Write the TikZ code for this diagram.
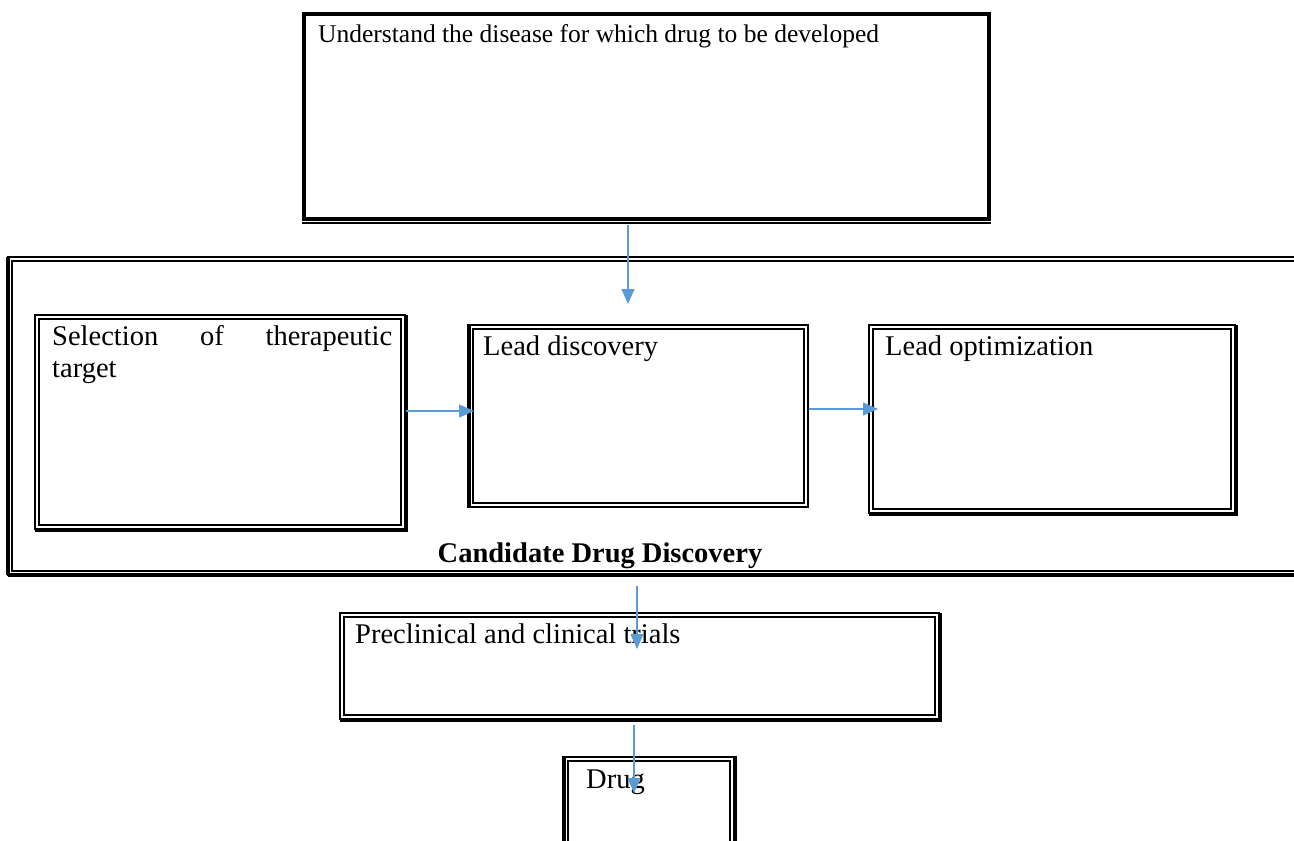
\documentclass[tikz,border=0pt]{standalone}
\usepackage{fontspec}
\setmainfont{Liberation Serif}
\usetikzlibrary{arrows.meta}
\definecolor{arrowblue}{HTML}{5B9BD5}
\begin{document}
\begin{tikzpicture}[x=1pt,y=-1pt,
  box/.style={draw, line width=1.8pt, inner sep=0pt, outer sep=0pt, anchor=north west},
  innerline/.style={line width=1.4pt},
  heavy/.style={line width=4pt},
  arr/.style={draw=arrowblue, line width=1.4pt, -{Triangle[length=15pt,width=13pt]}},
  txt/.style={font=\fontsize{28.5}{32}\selectfont, inner sep=0pt, anchor=base west}]
\clip (0,0) rectangle (1294,841);
\fill[white] (0,0) rectangle (1294,841);

% top box
\node[box, line width=4.5pt, minimum width=685pt, minimum height=205pt] (top) at (304,14) {};
\draw[line width=1.2pt] ([shift={(-2,4)}]top.south west) -- ([shift={(2,4)}]top.south east);
\node[txt, font=\fontsize{25.5}{30}\selectfont] (toptxt) at (318,42) {Understand the disease for which drug to be developed};

% container
\node[box, line width=1.6pt, minimum width=1292pt, minimum height=318pt] (cont) at (8,257) {};
\draw[innerline] ([shift={(4,4)}]cont.north west) rectangle ([shift={(-4,-4)}]cont.south east);
\draw[heavy] (cont.south west) -- (cont.south east);
\draw[heavy] (cont.north west) -- (cont.south west);

% selection of therapeutic target
\node[box, minimum width=370pt, minimum height=214pt] (sel) at (35,315) {};
\draw[innerline] ([shift={(4,4)}]sel.north west) rectangle ([shift={(-4,-4)}]sel.south east);
\draw[heavy] ([shift={(1,0)}]sel.north east) -- ([shift={(1,1)}]sel.south east) -- ([shift={(0,1)}]sel.south west);
\node[txt, text width=340pt, align=justify] (seltxt) at (52,345) {Selection of therapeutic\linebreak target};

% lead discovery
\node[box, minimum width=339pt, minimum height=182pt] (ld) at (469,325) {};
\draw[innerline] ([shift={(4,4)}]ld.north west) rectangle ([shift={(-4,-4)}]ld.south east);
\draw[heavy] ([shift={(0,-1)}]ld.north west) -- ([shift={(0,1)}]ld.south west);
\node[txt] (ldtxt) at (483,355) {Lead discovery};

% lead optimization
\node[box, minimum width=366pt, minimum height=188pt] (lo) at (869,325) {};
\draw[innerline] ([shift={(4,4)}]lo.north west) rectangle ([shift={(-4,-4)}]lo.south east);
\draw[heavy] ([shift={(1,0)}]lo.north east) -- ([shift={(1,1)}]lo.south east) -- ([shift={(0,1)}]lo.south west);
\node[txt] (lotxt) at (885,355) {Lead optimization};

\node[txt, anchor=base, font=\fontsize{28.5}{32}\selectfont\bfseries] (cap) at (600,562) {Candidate Drug Discovery};

% preclinical
\node[box, minimum width=599pt, minimum height=106pt] (pre) at (340,613) {};
\draw[innerline] ([shift={(4,4)}]pre.north west) rectangle ([shift={(-4,-4)}]pre.south east);
\draw[heavy] ([shift={(1,0)}]pre.north east) -- ([shift={(1,1)}]pre.south east) -- ([shift={(0,1)}]pre.south west);
\node[txt] (pretxt) at (355,643) {Preclinical and clinical trials};

% drug
\node[box, minimum width=170pt, minimum height=100pt] (drug) at (564,757) {};
\draw[innerline] ([shift={(4,4)}]drug.north west) rectangle ([shift={(-4,-4)}]drug.south east);
\draw[heavy] ([shift={(0,-1)}]drug.north west) -- (drug.south west);
\draw[heavy] ([shift={(1,-1)}]drug.north east) -- ([shift={(1,0)}]drug.south east);
\node[txt] (drugtxt) at (586,788) {Drug};

% connectors
\coordinate (a1s) at (628,225); \coordinate (a1e) at (628,304);
\coordinate (a2s) at (406,411); \coordinate (a2e) at (474,411);
\coordinate (a3s) at (809,409); \coordinate (a3e) at (878,409);
\coordinate (a4s) at (637,586); \coordinate (a4e) at (637,649);
\coordinate (a5s) at (634,725); \coordinate (a5e) at (634,793);
\draw[arr] (a1s) -- (a1e);
\draw[arr] (a2s) -- (a2e);
\draw[arr] (a3s) -- (a3e);
\draw[arr] (a4s) -- (a4e);
\draw[arr] (a5s) -- (a5e);
\end{tikzpicture}
\end{document}
